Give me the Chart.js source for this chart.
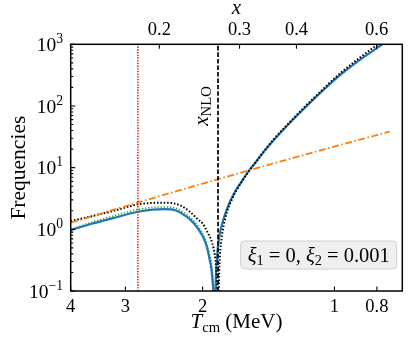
<!DOCTYPE html>
<html><head><meta charset="utf-8">
<script src="https://cdn.jsdelivr.net/npm/chart.js@4.4.0/dist/chart.umd.min.js"></script>
<style>html,body{margin:0;padding:0;background:#fff}#wrap{position:relative;width:414px;height:343px}</style>
</head><body><div id="wrap"><canvas id="c"></canvas></div>
<script>
// ---- data ----
const tempBlue = [4.0,3.6,3.2,2.81,2.6,2.45,2.3,2.175,2.1,2.04,1.98,1.95,1.933,1.91,1.895,1.885,1.878,1.872,1.866,1.857,1.845,1.83,1.80,1.77,1.74,1.69,1.65,1.573,1.50,1.45,1.375,1.27,1.162,1.07,0.982,0.88,0.782,0.748];
const freqBlue = [0.97,1.22,1.52,1.93,2.08,2.13,2.02,1.6,1.28,0.98,0.67,0.48,0.36,0.23,0.13,0.065,0.02,0.04,0.14,0.3,0.52,0.8,1.3,1.9,2.6,4.0,5.2,8.6,13.2,18.0,28,51.5,97,170,297,545,970,1210];

const tempGreen = [4.0,3.6,3.2,2.81,2.6,2.45,2.3,2.175,2.1,2.04,1.98,1.95,1.933,1.91,1.895,1.882,1.874,1.868,1.862,1.852,1.84,1.83,1.80,1.77,1.74,1.69,1.65,1.573,1.45,1.375,1.162,0.982,0.782,0.748];
const freqGreen = [0.99,1.29,1.64,2.1,2.26,2.31,2.19,1.74,1.4,1.08,0.74,0.55,0.43,0.29,0.18,0.085,0.02,0.05,0.15,0.31,0.53,0.8,1.3,1.9,2.6,4.0,5.2,8.6,18.0,28,97,297,970,1210];

const tempBlack = [4.0,3.6,3.2,2.81,2.6,2.41,2.25,2.138,2.05,2.0,1.95,1.90,1.875,1.863,1.852,1.846,1.840,1.835,1.825,1.81,1.79,1.76,1.72,1.67,1.62,1.573,1.50,1.45,1.375,1.27,1.162,1.07,0.982,0.88,0.80,0.748];
const freqBlack = [1.36,1.62,1.98,2.54,2.68,2.7,2.45,1.93,1.45,1.25,0.9,0.59,0.38,0.25,0.1,0.03,0.05,0.15,0.38,0.72,1.15,1.9,2.9,4.4,6.2,8.5,13.2,18.3,29,53,101,178,315,590,970,1300];

const tempOrange = [4.0,2.81,1.844,1.2,0.748];
const freqOrange = [1.28,2.72,6.5,15.4,38.5];

const T_RED = 2.81;      // red dotted vertical line
const T_NLO = 1.844;     // black dashed vertical line (x_NLO)
const M_E = 0.511;       // x = m_e / T for the top axis

const xRange = [0.748, 4];
const yRange = [0.1, 1000];
const xTicks = [4,3,2,1,0.8];
const xTickLabels = ['4','3','2','1','0.8'];
const topTicks = [0.2,0.3,0.4,0.6];
const topTickLabels = ['0.2','0.3','0.4','0.6'];
const yTicks = [0.1,1,10,100,1000];
const yTickExps = ['\u22121','0','1','2','3'];

function pts(ts, ys){ return ts.map((t,i)=>({x:t,y:ys[i]})); }

const SERIF = '"Liberation Serif","Times New Roman",serif';
function fnt(p,size){ return (p.it?'italic ':'')+(size*(p.s||1)).toFixed(2)+'px '+SERIF; }
function richW(ctx,parts,size){ let w=0; for(const p of parts){ ctx.font=fnt(p,size); w+=ctx.measureText(p.t).width; } return w; }
function drawRich(ctx,parts,size,x,y,align){
  const w=richW(ctx,parts,size);
  let cx = align==='center'? x-w/2 : (align==='right'? x-w : x);
  ctx.textAlign='left'; ctx.textBaseline='alphabetic';
  for(const p of parts){ ctx.font=fnt(p,size); ctx.fillText(p.t,cx,y+(p.dy||0)*size); cx+=ctx.measureText(p.t).width; }
}

const decor = {
  id:'decor',
  afterDatasetsDraw(chart){
    const ctx=chart.ctx, a=chart.chartArea, xs=chart.scales.x, ys=chart.scales.y, xt=chart.scales.xTop;
    ctx.save();
    ctx.fillStyle='#000'; ctx.strokeStyle='#000';
    // ticks (inward)
    ctx.lineWidth=1.1;
    ctx.beginPath();
    for(const v of xTicks){ const px=xs.getPixelForValue(v); ctx.moveTo(px,a.bottom); ctx.lineTo(px,a.bottom-4.5); }
    for(const v of topTicks){ const px=xt.getPixelForValue(v); ctx.moveTo(px,a.top); ctx.lineTo(px,a.top+4.5); }
    for(const v of yTicks){ const py=ys.getPixelForValue(v); ctx.moveTo(a.left,py); ctx.lineTo(a.left+4.5,py); }
    for(let d=0; d<yTicks.length-1; d++){
      for(let k=2;k<=9;k++){ const py=ys.getPixelForValue(yTicks[d]*k); ctx.moveTo(a.left,py); ctx.lineTo(a.left+2.5,py); }
    }
    ctx.stroke();
    // frame
    ctx.lineWidth=1.5;
    ctx.strokeRect(a.left,a.top,a.right-a.left,a.bottom-a.top);
    // tick labels
    xTicks.forEach((v,i)=>drawRich(ctx,[{t:xTickLabels[i]}],18.5,xs.getPixelForValue(v),312,'center'));
    topTicks.forEach((v,i)=>drawRich(ctx,[{t:topTickLabels[i]}],18.5,xt.getPixelForValue(v),35,'center'));
    yTicks.forEach((v,i)=>drawRich(ctx,[{t:'10'},{t:yTickExps[i],s:0.7,dy:-0.42}],19.5,63,ys.getPixelForValue(v)+6.8,'right'));
    // axis titles
    const cxm=(a.left+a.right)/2;
    drawRich(ctx,[{t:'x',it:true}],21,cxm,14,'center');
    drawRich(ctx,[{t:'T',it:true},{t:'cm',s:0.7,dy:0.18},{t:' (MeV)'}],21,cxm,328,'center');
    ctx.save(); ctx.translate(24.5,(a.top+a.bottom)/2); ctx.rotate(-Math.PI/2);
    drawRich(ctx,[{t:'Frequencies'}],21.5,0,0,'center'); ctx.restore();
    // x_NLO label
    ctx.save(); ctx.translate(xs.getPixelForValue(T_NLO)-10.5,106); ctx.rotate(-Math.PI/2);
    drawRich(ctx,[{t:'x',it:true},{t:'NLO',s:0.7,dy:0.18}],21,0,0,'center'); ctx.restore();
    // legend box
    ctx.beginPath(); ctx.roundRect(240.7,241,156,28,4);
    ctx.fillStyle='rgba(238,238,238,0.95)'; ctx.fill();
    ctx.lineWidth=1; ctx.strokeStyle='#cfcfcf'; ctx.stroke();
    ctx.fillStyle='#000';
    drawRich(ctx,[{t:'\u03be',it:true},{t:'1',s:0.7,dy:0.18},{t:' = 0, '},{t:'\u03be',it:true},{t:'2',s:0.7,dy:0.18},{t:' = 0.001'}],20.5,318.7,261.5,'center');
    ctx.restore();
  }
};

const common = {pointRadius:0, fill:false, clip:0, cubicInterpolationMode:'monotone'};
new Chart(document.getElementById('c'),{
  type:'line',
  data:{datasets:[
    Object.assign({label:'NLO', data:pts([T_NLO,T_NLO],yRange), borderColor:'#000', borderWidth:1.7, borderDash:[4.5,2]},common),
    Object.assign({label:'red', data:pts([T_RED,T_RED],yRange), borderColor:'#ff0000', borderWidth:1.5, borderDash:[1.3,1.4]},common),
    Object.assign({label:'orange', data:pts(tempOrange,freqOrange), borderColor:'#ff7f0e', borderWidth:1.8, borderDash:[7,2.5,1.6,2.5]},common),
    Object.assign({label:'black', data:pts(tempBlack,freqBlack), borderColor:'#000', borderWidth:2, borderDash:[1.5,1.9]},common),
    Object.assign({label:'blue', data:pts(tempBlue,freqBlue), borderColor:'#1f77b4', borderWidth:2.2},common),
    Object.assign({label:'green', data:pts(tempGreen,freqGreen), borderColor:'#2ca02c', borderWidth:1.5, borderDash:[1.3,1.8]},common)
  ]},
  options:{
    responsive:true, maintainAspectRatio:false, animation:false,
    layout:{padding:{left:70.7,top:44.3,right:11.7,bottom:52}},
    plugins:{legend:{display:false},tooltip:{enabled:false}},
    scales:{
      x:{type:'logarithmic',position:'bottom',reverse:true,min:xRange[0],max:xRange[1],display:false},
      xTop:{type:'logarithmic',position:'top',min:M_E/xRange[1],max:M_E/xRange[0],display:false},
      y:{type:'logarithmic',min:yRange[0],max:yRange[1],display:false}
    }
  },
  plugins:[decor]
});
</script></body></html>
